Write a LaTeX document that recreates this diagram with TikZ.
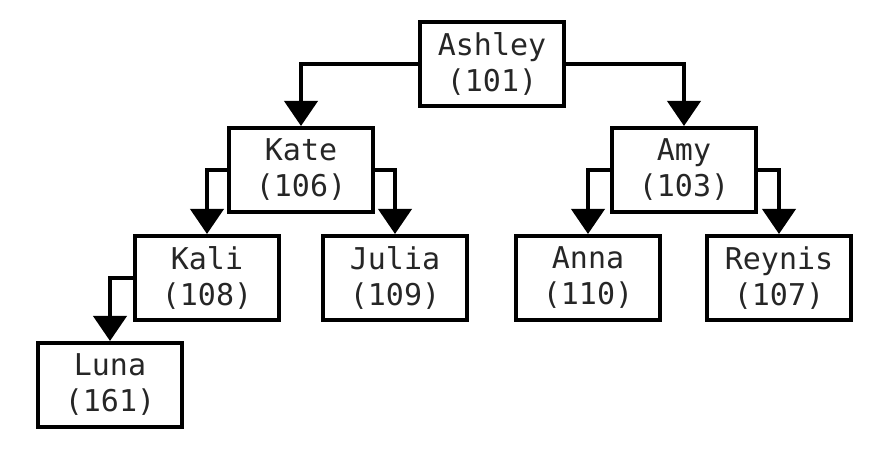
\documentclass[tikz,border=0pt]{standalone}
\usepackage{fontspec}
\setmonofont{DejaVu Sans Mono}
\usetikzlibrary{arrows.meta}

\tikzset{
  person/.style={draw,line width=2pt,minimum width=72pt,minimum height=42pt,
    align=center,inner sep=0pt,font=\ttfamily\fontsize{15}{18}\selectfont,text=black!85},
  link/.style={line width=2pt,-{Triangle[width=16.5pt,length=12.5pt]}}
}

\begin{document}
\begin{tikzpicture}[x=0.5pt,y=-0.5pt]
  \useasboundingbox (0,0) rectangle (884,454);

  \node[person] (ashley) at (492,64) {Ashley\\(101)};
  \node[person] (kate) at (301,170) {Kate\\(106)};
  \node[person] (amy) at (684,170) {Amy\\(103)};
  \node[person] (kali) at (207,278) {Kali\\(108)};
  \node[person] (julia) at (395,278) {Julia\\(109)};
  \node[person] (anna) at (588,278) {Anna\\(110)};
  \node[person] (reynis) at (779,278) {Reynis\\(107)};
  \node[person] (luna) at (110,385) {Luna\\(161)};

  \draw [link] (ashley.west) -| (kate.north);
  \draw [link] (ashley.east) -| (amy.north);

  \draw [link] (kate.west) -| (kali.north);
  \draw [link] (kate.east) -| (julia.north);

  \draw [link] (amy.west) -| (anna.north);
  \draw [link] (amy.east) -| (reynis.north);

  \draw [link] (kali.west) -| (luna.north);
\end{tikzpicture}
\end{document}
